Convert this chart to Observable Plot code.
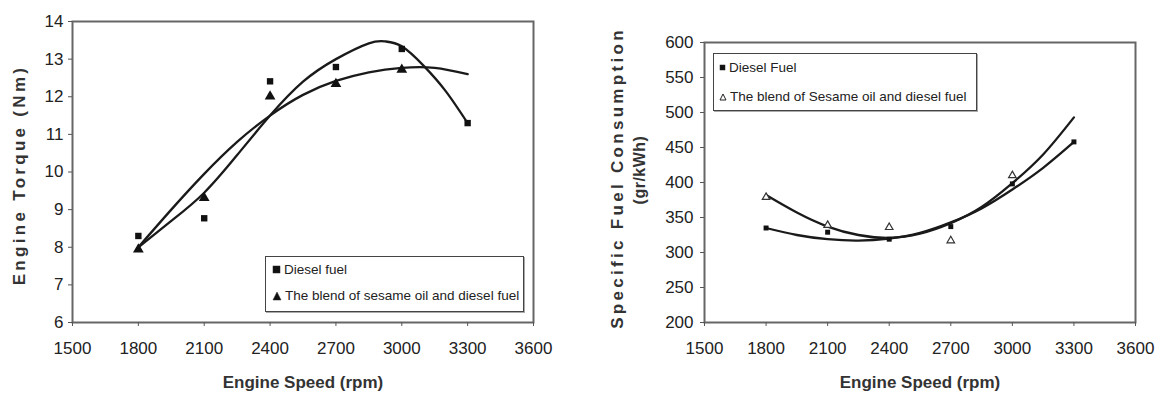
<!DOCTYPE html>
<html>
<head>
<meta charset="utf-8">
<script src="https://cdn.jsdelivr.net/npm/d3@7"></script>
<script src="https://cdn.jsdelivr.net/npm/@observablehq/plot@0.6"></script>
<style>
  html, body { margin: 0; padding: 0; background: #fff; }
  #wrap { position: relative; width: 1164px; height: 399px; overflow: hidden; font-family: "Liberation Sans", Arial, sans-serif; color: #222; }
  #wrap > svg { position: absolute; top: 0; }
  .lab { position: absolute; white-space: nowrap; font-weight: bold; color: #333; transform: translate(-50%, -50%); }
  .rot { transform: translate(-50%, -50%) rotate(-90deg); }
  .legend { position: absolute; border: 1.5px solid #444; box-shadow: 1px 1px 0 #aaa; background: #fff; font-size: 13.5px; color: #222; box-sizing: border-box; }
  .legend .row { position: absolute; left: 0; white-space: nowrap; display: flex; align-items: center; }
  #wrap .legend .row svg { position: static; margin-right: 3px; }
</style>
</head>
<body>
<div id="wrap"></div>
<script>
// ---- data ----
const speeds = [1800, 2100, 2400, 2700, 3000, 3300];
const torqueDiesel = [8.3, 8.77, 12.41, 12.79, 13.27, 11.3];
const torqueBlend = [7.94, 9.31, 12.01, 12.34, 12.72, null];
const sfcDiesel = [335, 329, 319, 337, 398, 458];
const sfcBlend = [379, 339, 336, 317, 410, null];

// trend curves
const trendSpeedsTorqueDiesel = [1800, 1950, 2100, 2250, 2400, 2550, 2700, 2850, 2925, 3000, 3100, 3200, 3300];
const trendTorqueDiesel = [8.0, 8.7, 9.45, 10.45, 11.5, 12.4, 13.0, 13.42, 13.47, 13.34, 12.82, 12.15, 11.3];
const trendSpeeds = [1800, 1950, 2100, 2250, 2400, 2550, 2700, 2850, 3000, 3150, 3300];
const trendTorqueBlend = [8.0, 9.0, 9.95, 10.8, 11.5, 12.05, 12.42, 12.65, 12.77, 12.77, 12.6];
const trendSfcDiesel = [335, 325, 319, 317, 320, 328, 343, 363, 390, 421, 458];
const trendSfcBlend = [382, 357, 337, 325, 321, 327, 342, 365, 399, 440, 493];

const xTicks = [1500, 1800, 2100, 2400, 2700, 3000, 3300, 3600];
const torqueTicks = [6, 7, 8, 9, 10, 11, 12, 13, 14];
const sfcTicks = [200, 250, 300, 350, 400, 450, 500, 550, 600];

const legendLeft = ["Diesel fuel", "The blend of sesame oil and diesel fuel"];
const legendRight = ["Diesel Fuel", "The blend of Sesame oil and diesel fuel"];
const xLabel = "Engine Speed (rpm)";
const yLabelLeft = "Engine Torque (Nm)";
const yLabelRight = "Specific Fuel Consumption";
const yLabelRightUnit = "(gr/kWh)";

// ---- build tables ----
const pts = (ys) => speeds.map((s, i) => ({x: s, y: ys[i]})).filter(d => d.y != null);
const curvePts = (xs, ys) => xs.map((s, i) => ({x: s, y: ys[i]}));

const font = "Liberation Sans, Arial, sans-serif";
const wrap = document.getElementById("wrap");

const left = Plot.plot({
  width: 582, height: 399,
  marginLeft: 72, marginRight: 49, marginTop: 21, marginBottom: 77,
  x: {domain: [1500, 3600]},
  y: {domain: [6, 14]},
  style: {fontFamily: font, background: "transparent", color: "#222"},
  marks: [
    Plot.frame({stroke: "#666", strokeWidth: 2}),
    Plot.axisX({ticks: xTicks, tickSize: 4, tickPadding: 15, fontSize: 17, label: null, tickFormat: d => String(d), stroke: "#555"}),
    Plot.axisY({ticks: torqueTicks, tickSize: 4, tickPadding: 5, fontSize: 17, label: null, tickFormat: d => String(d), stroke: "#555"}),
    Plot.line(curvePts(trendSpeedsTorqueDiesel, trendTorqueDiesel), {x: "x", y: "y", curve: "natural", stroke: "#1a1a1a", strokeWidth: 2.3}),
    Plot.line(curvePts(trendSpeeds, trendTorqueBlend), {x: "x", y: "y", curve: "natural", stroke: "#1a1a1a", strokeWidth: 2.3}),
    Plot.dot(pts(torqueDiesel), {x: "x", y: "y", symbol: "square", r: 3.6, fill: "#111"}),
    Plot.dot(pts(torqueBlend), {x: "x", y: "y", symbol: "triangle", r: 4, fill: "#111"})
  ]
});
left.style.left = "0px";
wrap.appendChild(left);

const right = Plot.plot({
  width: 582, height: 399,
  marginLeft: 122, marginRight: 29, marginTop: 42, marginBottom: 77,
  x: {domain: [1500, 3600]},
  y: {domain: [200, 600]},
  style: {fontFamily: font, background: "transparent", color: "#222"},
  marks: [
    Plot.frame({stroke: "#666", strokeWidth: 2}),
    Plot.axisX({ticks: xTicks, tickSize: 4, tickPadding: 15, fontSize: 17, label: null, tickFormat: d => String(d), stroke: "#555"}),
    Plot.axisY({ticks: sfcTicks, tickSize: 4, tickPadding: 7, fontSize: 17, label: null, tickFormat: d => String(d), stroke: "#555"}),
    Plot.line(curvePts(trendSpeeds, trendSfcDiesel), {x: "x", y: "y", curve: "natural", stroke: "#1a1a1a", strokeWidth: 2.3}),
    Plot.line(curvePts(trendSpeeds, trendSfcBlend), {x: "x", y: "y", curve: "natural", stroke: "#1a1a1a", strokeWidth: 2.3}),
    Plot.dot(pts(sfcDiesel), {x: "x", y: "y", symbol: "square", r: 2.8, fill: "#111"}),
    Plot.dot(pts(sfcBlend), {x: "x", y: "y", symbol: "triangle", r: 2.8, fill: "#fff", stroke: "#333", strokeWidth: 1.2})
  ]
});
right.style.left = "582px";
wrap.appendChild(right);

// ---- axis titles ----
function label(text, cx, cy, size, spacing, rotate) {
  const d = document.createElement("div");
  d.className = "lab" + (rotate ? " rot" : "");
  d.textContent = text;
  d.style.left = cx + "px";
  d.style.top = cy + "px";
  d.style.fontSize = size + "px";
  d.style.letterSpacing = spacing + "px";
  wrap.appendChild(d);
}
label(xLabel, 303, 383, 17, 0, false);
label(xLabel, 920, 383, 17, 0, false);
label(yLabelLeft, 20, 175, 17, 3.3, true);
label(yLabelRight, 618, 178, 17, 3.3, true);
label(yLabelRightUnit, 640, 170, 16, 0.5, true);

// ---- legends ----
function marker(kind, size, hollow) {
  const s = document.createElementNS("http://www.w3.org/2000/svg", "svg");
  s.setAttribute("width", size + 2);
  s.setAttribute("height", size + 2);
  const c = (size + 2) / 2, h = size / 2;
  let el;
  if (kind === "square") {
    el = document.createElementNS("http://www.w3.org/2000/svg", "rect");
    el.setAttribute("x", c - h); el.setAttribute("y", c - h);
    el.setAttribute("width", size); el.setAttribute("height", size);
  } else {
    el = document.createElementNS("http://www.w3.org/2000/svg", "path");
    el.setAttribute("d", `M${c},${c - h}L${c + h},${c + h}L${c - h},${c + h}Z`);
  }
  el.setAttribute("fill", hollow ? "#fff" : "#111");
  el.setAttribute("stroke", "#222");
  el.setAttribute("stroke-width", hollow ? 1 : 0.5);
  s.appendChild(el);
  return s;
}
function legend(items, box, rows, markers) {
  const d = document.createElement("div");
  d.className = "legend";
  d.style.left = box[0] + "px";
  d.style.top = box[1] + "px";
  d.style.width = (box[2] - box[0]) + "px";
  d.style.height = (box[3] - box[1]) + "px";
  items.forEach((t, i) => {
    const r = document.createElement("div");
    r.className = "row";
    r.style.top = rows[i] + "px";
    r.style.left = markers.offset + "px";
    r.appendChild(marker(markers.kinds[i], markers.sizes[i], markers.hollow[i]));
    const sp = document.createElement("span");
    sp.textContent = t;
    r.appendChild(sp);
    d.appendChild(r);
  });
  wrap.appendChild(d);
}
legend(legendLeft, [265, 256, 524, 312], [5, 31], {offset: 6, kinds: ["square", "triangle"], sizes: [7, 8], hollow: [false, false]});
legend(legendRight, [713, 53, 977, 111], [6, 35], {offset: 5, kinds: ["square", "triangle"], sizes: [5, 6], hollow: [false, true]});
</script>
</body>
</html>
